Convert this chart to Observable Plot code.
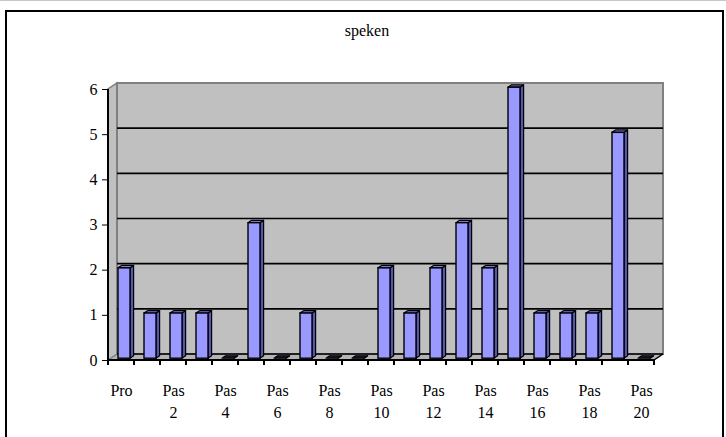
<!DOCTYPE html>
<html>
<head>
<meta charset="utf-8">
<script src="https://cdn.jsdelivr.net/npm/d3@7"></script>
<script src="https://cdn.jsdelivr.net/npm/@observablehq/plot@0.6"></script>
<style>
  html, body { margin: 0; padding: 0; background: #fff; overflow: hidden; }
  body { width: 726px; height: 437px; position: relative; }
  #topline { position: absolute; left: 0; top: 0; width: 726px; height: 1px; background: #c8c8c8; }
  #box { position: absolute; left: 5px; top: 10px; width: 719px; height: 440px; border: 2px solid #000; box-sizing: border-box; }
  #title { position: relative; height: 30px; padding-top: 21px; padding-left: 8px; width: 718px;
           text-align: center; font-size: 16px; line-height: 20px;
           font-family: "Liberation Serif", "Tinos", "Times New Roman", "Noto Serif", "FreeSerif", "DejaVu Serif", serif; color: #000; }
  #chart { position: relative; margin-top: -1px; }
</style>
</head>
<body>
<div id="topline"></div>
<div id="box"></div>
<div id="title">speken</div>
<div id="chart"></div>
<script>
const categories = ["Pro","Pas 1","Pas 2","Pas 3","Pas 4","Pas 5","Pas 6","Pas 7","Pas 8","Pas 9","Pas 10",
                    "Pas 11","Pas 12","Pas 13","Pas 14","Pas 15","Pas 16","Pas 17","Pas 18","Pas 19","Pas 20"];
const values = [2,1,1,1,0,3,0,1,0,0,2,1,2,3,2,6,1,1,1,5,0];
const yTicks = [0,1,2,3,4,5,6];
const labeledCategories = ["Pro","Pas 2","Pas 4","Pas 6","Pas 8","Pas 10","Pas 12","Pas 14","Pas 16","Pas 18","Pas 20"];
const xTickLabels = ["Pro","Pas\n2","Pas\n4","Pas\n6","Pas\n8","Pas\n10","Pas\n12","Pas\n14","Pas\n16","Pas\n18","Pas\n20"];

const data = categories.map((c, i) => ({cat: c, value: values[i]}));
const labels = labeledCategories.map((c, i) => ({cat: c, text: xTickLabels[i]}));

const DX = 9, DY = -6;
const F0 = 0.3, DEPTH = 0.4;
const INSET_L = 7.3, INSET_R = 6.7;
const SERIF = "'Liberation Serif', 'Tinos', 'Times New Roman', 'Noto Serif', 'FreeSerif', 'DejaVu Serif', serif";

const P = pts => pts.map(p => p.join(",")).join(" ");

function scene(index, scales) {
  const {x, y} = scales;
  const step = x(categories[1]) - x(categories[0]);
  const x0 = x(categories[0]);
  const x1 = x(categories[categories.length - 1]) + step;
  const yb = y(yTicks[0]), yt = y(yTicks[yTicks.length - 1]);
  const g = d3.create("svg:g");
  g.append("polygon").attr("points", P([[x0,yb],[x1,yb],[x1+DX,yb+DY],[x0+DX,yb+DY]]))
    .attr("fill", "#b4b4b4").attr("stroke", "#808080").attr("stroke-width", 1);
  g.append("polygon").attr("points", P([[x0,yb],[x0+DX,yb+DY],[x0+DX,yt+DY],[x0,yt]]))
    .attr("fill", "#c0c0c0").attr("stroke", "#808080").attr("stroke-width", 1.5);
  g.append("rect").attr("x", x0+DX).attr("y", yt+DY).attr("width", x1-x0).attr("height", yb-yt)
    .attr("fill", "#c0c0c0").attr("stroke", "#808080").attr("stroke-width", 2);
  for (const v of yTicks.slice(0, -1)) {
    g.append("line").attr("x1", x0+DX).attr("x2", x1+DX).attr("y1", y(v)+DY).attr("y2", y(v)+DY)
      .attr("stroke", "#000").attr("stroke-width", 1.6);
  }
  g.append("line").attr("x1", x1).attr("y1", yb).attr("x2", x1+DX).attr("y2", yb+DY)
    .attr("stroke", "#000").attr("stroke-width", 1.5);
  g.append("line").attr("x1", x0).attr("x2", x0).attr("y1", yt).attr("y2", yb)
    .attr("stroke", "#000").attr("stroke-width", 2);
  g.append("line").attr("x1", x0).attr("x2", x1).attr("y1", yb).attr("y2", yb)
    .attr("stroke", "#000").attr("stroke-width", 2);
  for (let k = 0; k <= categories.length; k++) {
    const xx = x0 + k * step;
    g.append("line").attr("x1", xx).attr("x2", xx).attr("y1", yb).attr("y2", yb + 5)
      .attr("stroke", "#000").attr("stroke-width", 2);
  }
  return g.node();
}

function barFaces(index, scales) {
  const {x, y} = scales;
  const step = x(categories[1]) - x(categories[0]);
  const g = d3.create("svg:g");
  const ox = F0 * DX, oy = F0 * DY, dx = DEPTH * DX, dy = DEPTH * DY;
  for (const d of data) {
    const xl = x(d.cat) + INSET_L + ox;
    const xr = x(d.cat) + step - INSET_R + ox;
    const yv = y(d.value) + oy;
    const yb = y(0) + oy;
    g.append("polygon").attr("points", P([[xr,yv],[xr+dx,yv+dy],[xr+dx,yb+dy],[xr,yb]]))
      .attr("fill", "#5656b0").attr("stroke", "#000").attr("stroke-width", 1.2).attr("stroke-linejoin", "round");
    g.append("polygon").attr("points", P([[xl,yv],[xr,yv],[xr+dx,yv+dy],[xl+dx,yv+dy]]))
      .attr("fill", d.value === 0 ? "#202040" : "#7a7ad8").attr("stroke", "#000").attr("stroke-width", 1.2).attr("stroke-linejoin", "round");
  }
  return g.node();
}

const chart = Plot.plot({
  width: 726,
  height: 387,
  marginLeft: 108,
  marginRight: 72,
  marginTop: 39,
  marginBottom: 77,
  style: {fontFamily: SERIF, fontSize: "16px", background: "transparent", color: "#000", overflow: "visible"},
  x: {type: "band", domain: categories, padding: 0, axis: null},
  y: {domain: [0, 6], ticks: yTicks, tickFormat: d3.format("d"), tickSize: 6, tickPadding: 5, label: null},
  marks: [
    scene,
    barFaces,
    Plot.barY(data, {x: "cat", y: "value", fill: "#9999ff", stroke: "#000", strokeWidth: 1.4,
      insetLeft: INSET_L, insetRight: INSET_R, dx: F0 * DX, dy: F0 * DY}),
    Plot.text(labels, {x: "cat", text: "text", frameAnchor: "bottom", lineAnchor: "top",
      dy: 19.5, lineHeight: 1.375, fill: "#000", fontFamily: SERIF, fontSize: 16})
  ]
});
document.getElementById("chart").appendChild(chart);
</script>
</body>
</html>
